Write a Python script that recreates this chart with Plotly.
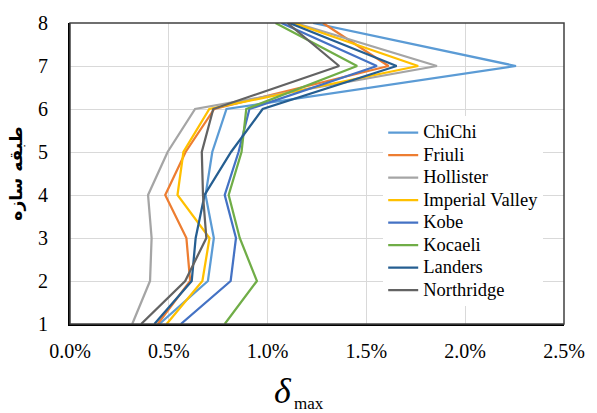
import plotly.graph_objects as go

# Story levels and peak inter-story drift ratio per record (in %)
stories = [1, 2, 3, 4, 5, 6, 7, 8]

chichi = [0.452, 0.698, 0.728, 0.686, 0.720, 0.792, 2.257, 1.230]
friuli = [0.444, 0.608, 0.589, 0.482, 0.585, 0.730, 1.612, 1.280]
hollister = [0.315, 0.405, 0.413, 0.395, 0.494, 0.633, 1.857, 1.140]
imperial_valley = [0.489, 0.670, 0.706, 0.544, 0.574, 0.705, 1.762, 1.130]
kobe = [0.561, 0.813, 0.840, 0.783, 0.853, 0.908, 1.553, 1.070]
kocaeli = [0.783, 0.946, 0.859, 0.803, 0.868, 0.892, 1.453, 1.040]
landers = [0.427, 0.616, 0.636, 0.681, 0.815, 0.975, 1.653, 1.110]
northridge = [0.360, 0.583, 0.690, 0.673, 0.667, 0.725, 1.362, 1.100]

names = ["ChiChi", "Friuli", "Hollister", "Imperial Valley",
         "Kobe", "Kocaeli", "Landers", "Northridge"]
series = [chichi, friuli, hollister, imperial_valley,
          kobe, kocaeli, landers, northridge]
colors = ["#5B9BD5", "#ED7D31", "#A5A5A5", "#FFC000",
          "#4472C4", "#70AD47", "#255E91", "#636363"]

x_ticks = [0.0, 0.005, 0.010, 0.015, 0.020, 0.025]

serif = "Liberation Serif"

fig = go.Figure()
for name, vals, col in zip(names, series, colors):
    fig.add_trace(go.Scatter(
        x=[v / 100 for v in vals], y=stories, mode="lines",
        name=f"<span style='font-size:18.5px'>{name}</span>",
        line=dict(color=col, width=2.25),
    ))

fig.update_layout(
    width=597, height=413,
    margin=dict(l=70, r=29, t=18, b=89),
    paper_bgcolor="white", plot_bgcolor="white",
    font=dict(family=serif, size=20, color="#000"),
    showlegend=True,
    legend=dict(
        x=0.634, y=0.69, xanchor="left", yanchor="top",
        bgcolor="white", font=dict(family=serif, size=15, color="#000"),
        itemwidth=30, tracegroupgap=0,
    ),
    xaxis=dict(
        range=[0, 0.025], tickvals=x_ticks, tickformat=".1%",
        showgrid=True, gridcolor="#d9d9d9", gridwidth=1,
        showline=True, linecolor="#000", linewidth=2,
        ticks="", zeroline=False, tickfont=dict(family=serif, size=20),
        ticklabelstandoff=8,
    ),
    yaxis=dict(
        range=[1, 8], dtick=1,
        showgrid=True, gridcolor="#d9d9d9", gridwidth=1,
        showline=True, linecolor="#000", linewidth=2,
        ticks="", zeroline=False, tickfont=dict(family=serif, size=20),
        ticklabelstandoff=16,
        title=dict(text="<b>طبقه سازه</b>", standoff=11,
                   font=dict(family="DejaVu Sans", size=17)),
    ),
    shapes=[dict(type="rect", xref="paper", yref="paper", x0=0, y0=0, x1=1, y1=1,
                 line=dict(color="#404040", width=1.5), layer="above")],
    annotations=[
        dict(text="<i>δ</i>", xref="paper", yref="paper", x=0.432, y=-0.15,
             xanchor="center", yanchor="top", showarrow=False,
             font=dict(family=serif, size=36, color="#000")),
        dict(text="max", xref="paper", yref="paper", x=0.484, y=-0.226,
             xanchor="center", yanchor="top", showarrow=False,
             font=dict(family=serif, size=17, color="#000")),
    ],
)

fig.write_html("out.html")
